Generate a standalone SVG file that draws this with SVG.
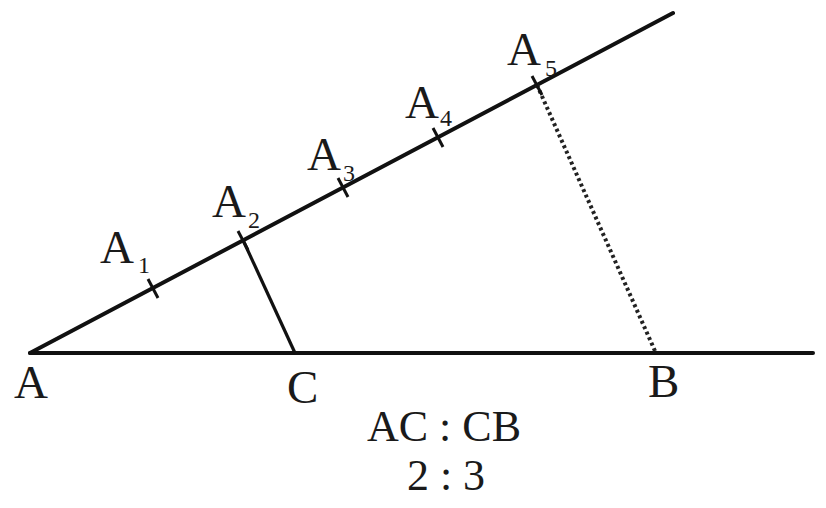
<svg xmlns="http://www.w3.org/2000/svg" width="826" height="508" viewBox="0 0 826 508">
<style>
.lbl{font-family:"Liberation Serif","Times New Roman",serif;font-size:47px;fill:#1a1a1a}
.sub{font-size:24px}
.ratio{font-size:44px}
.ln{stroke:#111;stroke-width:4;fill:none;stroke-linecap:round}
.thin{stroke:#111;stroke-width:3.2;fill:none}
.tick{stroke:#111;stroke-width:3;fill:none}
.dot{stroke:#222;stroke-width:4;fill:none;stroke-dasharray:3 3}
</style>
<rect width="826" height="508" fill="#fff"/>
<g id="connectors">
<line class="ln" x1="30" y1="353" x2="673" y2="13"/>
<line class="ln" x1="30" y1="353" x2="813" y2="353"/>
<line class="thin" x1="243" y1="240" x2="295" y2="353"/>
<line class="dot" x1="537" y1="85" x2="655" y2="351"/>
</g>
<g id="A"><text class="lbl" x="14" y="398">A</text></g>
<g id="C"><text class="lbl" x="287" y="403">C</text></g>
<g id="B"><text class="lbl" x="648" y="397">B</text></g>
<g id="A1"><line class="tick" x1="148" y1="279" x2="158" y2="298"/><text class="lbl" x="100" y="263">A<tspan class="sub" x="138" y="273">1</tspan></text></g>
<g id="A2"><line class="tick" x1="238" y1="231" x2="248" y2="250"/><text class="lbl" x="212" y="217">A<tspan class="sub" x="248" y="228">2</tspan></text></g>
<g id="A3"><line class="tick" x1="338" y1="178" x2="348" y2="197"/><text class="lbl" x="307" y="170">A<tspan class="sub" x="343" y="181">3</tspan></text></g>
<g id="A4"><line class="tick" x1="433" y1="128" x2="443" y2="147"/><text class="lbl" x="405" y="118">A<tspan class="sub" x="440" y="126">4</tspan></text></g>
<g id="A5"><line class="tick" x1="532" y1="76" x2="542" y2="95"/><text class="lbl" x="507" y="65">A<tspan class="sub" x="545" y="76">5</tspan></text></g>
<g id="ratio">
<text class="lbl ratio" x="444" y="441" text-anchor="middle">AC : CB</text>
<text class="lbl ratio" x="446" y="490" text-anchor="middle">2 : 3</text>
</g>
</svg>
